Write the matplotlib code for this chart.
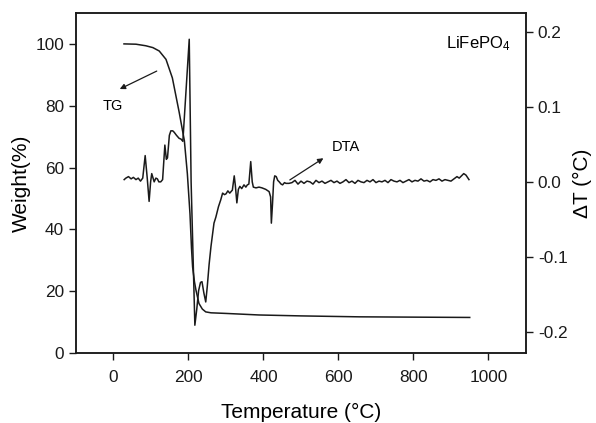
import numpy as np
import matplotlib
matplotlib.use("Agg")
import matplotlib.pyplot as plt

plt.rcParams['font.family'] = ['Liberation Sans', 'DejaVu Sans']
plt.rcParams['mathtext.fontset'] = 'custom'
plt.rcParams['mathtext.rm'] = 'Liberation Sans'
plt.rcParams['mathtext.default'] = 'regular'
plt.rcParams['axes.unicode_minus'] = False

# TG curve (left axis, weight %)
tg_temp = [28, 60, 86, 105, 122, 140, 157, 175, 189, 197, 204, 208, 211, 216, 220,
           228, 237, 246, 260, 300, 388, 500, 655, 800, 950]
tg_weight = [100, 99.9, 99.4, 98.8, 97.7, 95, 89, 78, 68.7, 58, 45, 34, 27.8, 23, 20.3,
             16, 14.2, 13.3, 13.0, 12.8, 12.3, 12.0, 11.7, 11.6, 11.5]

# DTA curve (right axis, delta T) - decomposition region
dta_temp = [28.5, 33, 40, 47, 53, 60, 66, 72, 78, 84.5, 90, 95, 99, 102, 106, 108.5,
            113, 117, 121, 126, 131, 137, 141, 144, 149, 153, 158, 162, 168, 175,
            180, 185, 202, 207, 217, 222, 227, 232, 236, 241, 246, 250, 255, 260,
            268, 273, 280, 286, 291, 296, 300, 305, 310, 317, 322, 325, 329, 333,
            337, 342, 348, 353, 357, 361, 366, 370, 373, 380, 388, 396, 406, 415,
            419, 421, 424, 427, 430, 434, 438, 442, 447, 451, 456, 460, 468]
dta_value = [0.003, 0.005, 0.007, 0.004, 0.006, 0.003, 0.005, 0.001, 0.005, 0.035,
             0.005, -0.026, 0.0, 0.011, 0.004, 0.0, 0.005, 0.004, 0.0, 0.0, 0.003,
             0.049, 0.03, 0.032, 0.062, 0.068, 0.068, 0.066, 0.062, 0.058, 0.057,
             0.054, 0.19, 0.0, -0.191, -0.17, -0.145, -0.134, -0.133, -0.148, -0.16,
             -0.14, -0.11, -0.086, -0.055, -0.047, -0.033, -0.024, -0.015, -0.017,
             -0.016, -0.012, -0.015, -0.011, 0.008, -0.005, -0.028, -0.01, -0.006,
             -0.009, -0.004, -0.007, -0.004, -0.003, 0.027, 0.0, -0.007, -0.008,
             -0.007, -0.008, -0.01, -0.013, -0.02, -0.055, -0.03, 0.0, 0.008, 0.007,
             0.002, 0.0, -0.003, -0.004, -0.001, -0.002, -0.002]

# DTA curve - flat high temperature part
dta_temp_hi = [476, 484, 492, 500, 508, 516, 524, 532,
               540, 548, 556, 564, 572, 580, 588, 596,
               604, 612, 620, 628, 636, 644, 652, 660,
               668, 676, 684, 692, 700, 708, 716, 724,
               732, 740, 748, 756, 764, 772, 780, 788,
               796, 804, 812, 820, 828, 836, 844, 852,
               860, 868, 876, 884, 892, 900, 908, 916,
               922, 928, 934, 940, 948]
dta_value_hi = [-0.001, 0.002, -0.003, 0.001, -0.002, 0.001, 0.0, -0.003,
                0.002, -0.001, 0.001, -0.002, 0.0, 0.002, -0.001, 0.001,
                -0.002, 0.0, 0.003, -0.001, 0.001, -0.002, 0.002, 0.0,
                -0.001, 0.002, 0.0, 0.003, -0.001, 0.001, 0.0, 0.002,
                -0.001, 0.003, 0.001, 0.0, 0.002, -0.001, 0.001, 0.003,
                0.0, 0.002, 0.001, 0.004, 0.001, 0.002, 0.0, 0.003,
                0.002, 0.004, 0.001, 0.003, 0.002, 0.001, 0.004, 0.007,
                0.005, 0.008, 0.011, 0.009, 0.003]

fig = plt.figure(figsize=(5.96, 4.23), dpi=100)
ax = fig.add_axes([0.1275, 0.1655, 0.755, 0.8038])
ax2 = ax.twinx()

line_col = '#1a1a1a'
ax.plot(tg_temp, tg_weight, color=line_col, lw=1.1)
ax2.plot(dta_temp + dta_temp_hi, dta_value + dta_value_hi, color=line_col, lw=1.1)

ax.set_xlim(-100, 1100)
ax.set_ylim(0, 110)
ax2.set_ylim(-0.228, 0.225)
ax.set_xticks([0, 200, 400, 600, 800, 1000])
ax.set_yticks([0, 20, 40, 60, 80, 100])
ax2.set_yticks([-0.2, -0.1, 0.0, 0.1, 0.2])
ax2.set_yticklabels(['-0.2', '-0.1', '0.0', '0.1', '0.2'])

for a in (ax, ax2):
    a.tick_params(direction='out', length=5, width=1, labelsize=12.4, colors='#1a1a1a')
    for s in a.spines.values():
        s.set_linewidth(1.1)
        s.set_color('#1a1a1a')
ax.tick_params(axis='x', pad=7)

ax.set_xlabel('Temperature (°C)', fontsize=15, labelpad=13)
ax.set_ylabel('Weight(%)', fontsize=15, labelpad=3)
ax2.set_ylabel('ΔT (°C)', fontsize=15, labelpad=4)

# annotations
ax.annotate('', xy=(10, 85), xytext=(122, 91.6),
            arrowprops=dict(arrowstyle='-|>', lw=0.9, color=line_col, mutation_scale=8))
ax.text(-3, 80, 'TG', fontsize=10.5, ha='center', va='center')
ax.annotate('', xy=(566, 63.5), xytext=(464, 55.5),
            arrowprops=dict(arrowstyle='-|>', lw=0.9, color=line_col, mutation_scale=8))
ax.text(620, 66.5, 'DTA', fontsize=10.5, ha='center', va='center')
ax.text(886, 100, 'LiFePO$_4$', fontsize=12, ha='left', va='center')

fig.savefig('out.png', dpi=100)
